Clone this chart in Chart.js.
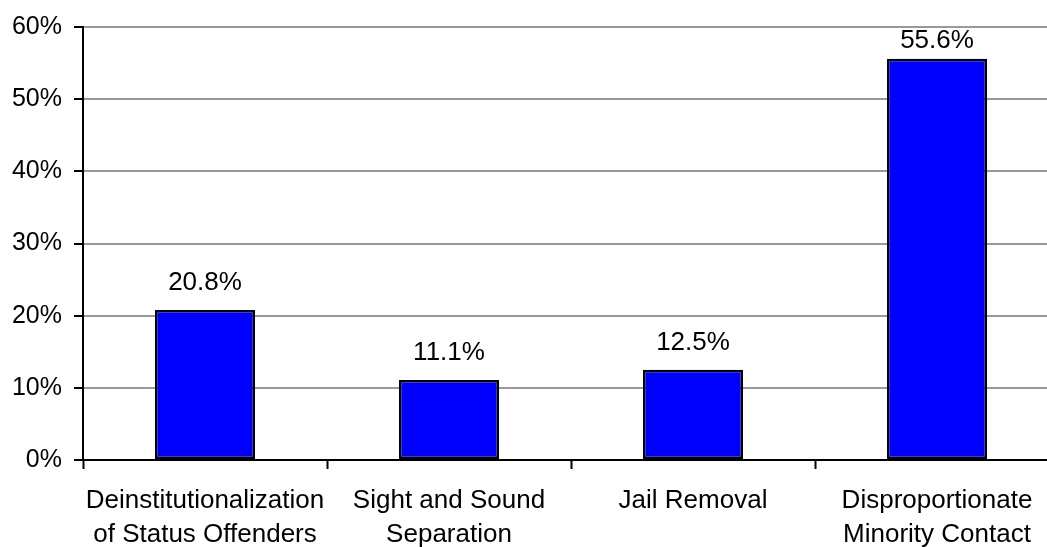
<!DOCTYPE html>
<html>
<head>
<meta charset="utf-8">
<script src="https://cdn.jsdelivr.net/npm/chart.js@4/dist/chart.umd.min.js"></script>
<style>
html,body{margin:0;padding:0;overflow:hidden;background:#fff;}
#wrap{width:1060px;height:547px;position:relative;}
</style>
</head>
<body>
<div id="wrap"><canvas id="c"></canvas></div>
<script>
const categories = [
  ["Deinstitutionalization", "of Status Offenders"],
  ["Sight and Sound", "Separation"],
  ["Jail Removal"],
  ["Disproportionate", "Minority Contact"]
];
const values = [20.8, 11.1, 12.5, 55.6];
const yTicks = [0, 10, 20, 30, 40, 50, 60];

const FONT = "'Liberation Sans', Arial, sans-serif";

const labelPlugin = {
  id: 'valueLabels',
  afterDatasetsDraw(chart) {
    const ctx = chart.ctx;
    const meta = chart.getDatasetMeta(0);
    ctx.save();
    ctx.font = "26px " + FONT;
    ctx.fillStyle = '#000';
    ctx.textAlign = 'center';
    ctx.textBaseline = 'alphabetic';
    meta.data.forEach((bar, i) => {
      const y = Math.max(bar.y - 20, chart.chartArea.top + 21);
      ctx.fillText(values[i].toFixed(1) + '%', bar.x, y);
    });
    ctx.restore();
  }
};

new Chart(document.getElementById('c'), {
  type: 'bar',
  data: {
    labels: categories,
    datasets: [{
      data: values,
      backgroundColor: '#0000FF',
      borderColor: '#000000',
      borderWidth: 2.5,
      borderSkipped: false,
      categoryPercentage: 1.0,
      barPercentage: 0.41
    }]
  },
  options: {
    responsive: true,
    maintainAspectRatio: false,
    animation: false,
    layout: { padding: { top: 25, right: 1, left: 0, bottom: 0 } },
    plugins: { legend: { display: false }, tooltip: { enabled: false } },
    scales: {
      x: {
        offset: true,
        grid: {
          display: true,
          drawOnChartArea: false,
          drawTicks: true,
          tickLength: 9,
          tickColor: '#000',
          tickWidth: 2,
          offset: true
        },
        border: { display: true, color: '#000', width: 2 },
        ticks: {
          color: '#000',
          font: { family: FONT, size: 26, lineHeight: '34px' },
          padding: 15,
          maxRotation: 0,
          autoSkip: false
        },
        afterFit(scale) { scale.height = 87; }
      },
      y: {
        min: 0,
        max: 60,
        afterBuildTicks(scale) { scale.ticks = yTicks.map(v => ({ value: v })); },
        grid: {
          color: '#999999',
          lineWidth: 2,
          drawTicks: true,
          tickLength: 9,
          tickColor: '#000',
          tickWidth: 2
        },
        border: { display: true, color: '#000', width: 2 },
        ticks: {
          color: '#000',
          font: { family: FONT, size: 25 },
          padding: 12,
          callback: v => v + '%'
        },
        afterFit(scale) { scale.width = 83; }
      }
    }
  },
  plugins: [labelPlugin]
});
</script>
</body>
</html>
